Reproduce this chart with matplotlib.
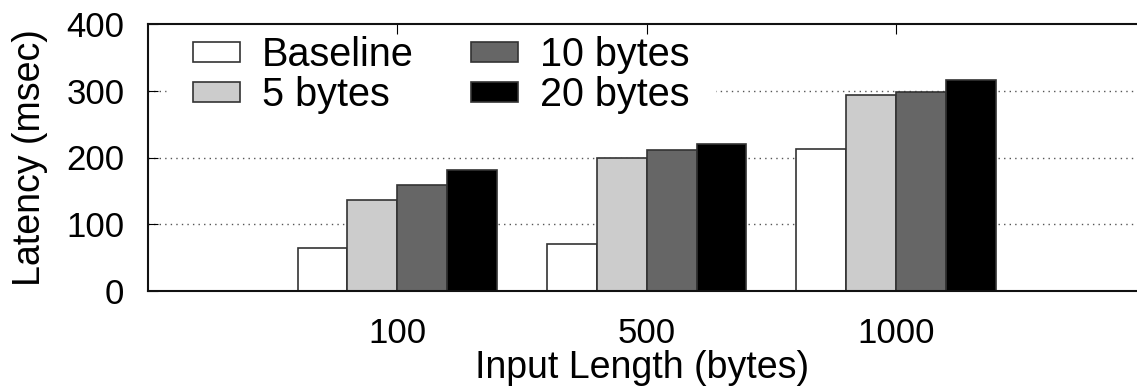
import numpy as np
import matplotlib
matplotlib.use("Agg")
import matplotlib.pyplot as plt

plt.rcParams["font.family"] = ["Liberation Sans", "DejaVu Sans"]

# latency per input length, one list per padding size
groups = ["100", "500", "1000"]
series = ["Baseline", "5 bytes", "10 bytes", "20 bytes"]
baseline = [64, 71, 212]
pad5 = [136, 199, 294]
pad10 = [159, 211, 298]
pad20 = [182, 220, 316]
values = [baseline, pad5, pad10, pad20]
colors = ["#ffffff", "#cccccc", "#666666", "#000000"]
yticks = [0, 100, 200, 300, 400]

fig = plt.figure(figsize=(11.37, 3.92), dpi=100)
ax = fig.add_axes([148 / 1137, (392 - 291) / 392, 1 - 148 / 1137, (291 - 24) / 392])

x = np.arange(len(groups))
w = 0.2
for i, (name, vals) in enumerate(zip(series, values)):
    ax.bar(x + (i - 1.5) * w, vals, w, label=name, color=colors[i],
           edgecolor="#333333", linewidth=1.2, zorder=3)

# dotted grid drawn by hand so it stays under the legend box and bars
for yv in yticks[1:-1]:
    ax.axhline(yv, linestyle=(0, (1, 3)), color="#555555", linewidth=1.0, zorder=0.5)

ax.set_xlim(-1, 2.966)
ax.set_ylim(0, 400)
ax.set_yticks(yticks)
ax.set_xticks(x)
ax.set_xticklabels(groups)
ax.tick_params(axis="y", direction="in", length=7, width=0.8, labelsize=25, pad=17)
ax.tick_params(axis="x", direction="in", length=7, width=0.8, labelsize=25, pad=19,
               top=True, bottom=False)
ax.set_axisbelow(False)

for side in ["left", "top", "bottom"]:
    ax.spines[side].set_linewidth(1.5)
    ax.spines[side].set_color("#111111")
    ax.spines[side].set_zorder(4)
ax.spines["right"].set_visible(False)

ax.set_ylabel("Latency (msec)", fontsize=27, labelpad=13)
ax.set_xlabel("Input Length (bytes)", fontsize=27, labelpad=0)

# white legend box sits under the spines and ticks but over the grid
leg = ax.legend(ncol=2, loc="upper left", bbox_to_anchor=(0.019, 1.052),
                frameon=True, fontsize=28.5, handlelength=1.19, handleheight=0.4,
                handletextpad=0.56, columnspacing=1.44, labelspacing=0.05,
                borderaxespad=0.0, borderpad=0.65)
leg.get_frame().set_facecolor("white")
leg.get_frame().set_edgecolor("white")
leg.get_frame().set_alpha(1.0)
leg.set_zorder(2)

fig.savefig("out.png", dpi=100)
